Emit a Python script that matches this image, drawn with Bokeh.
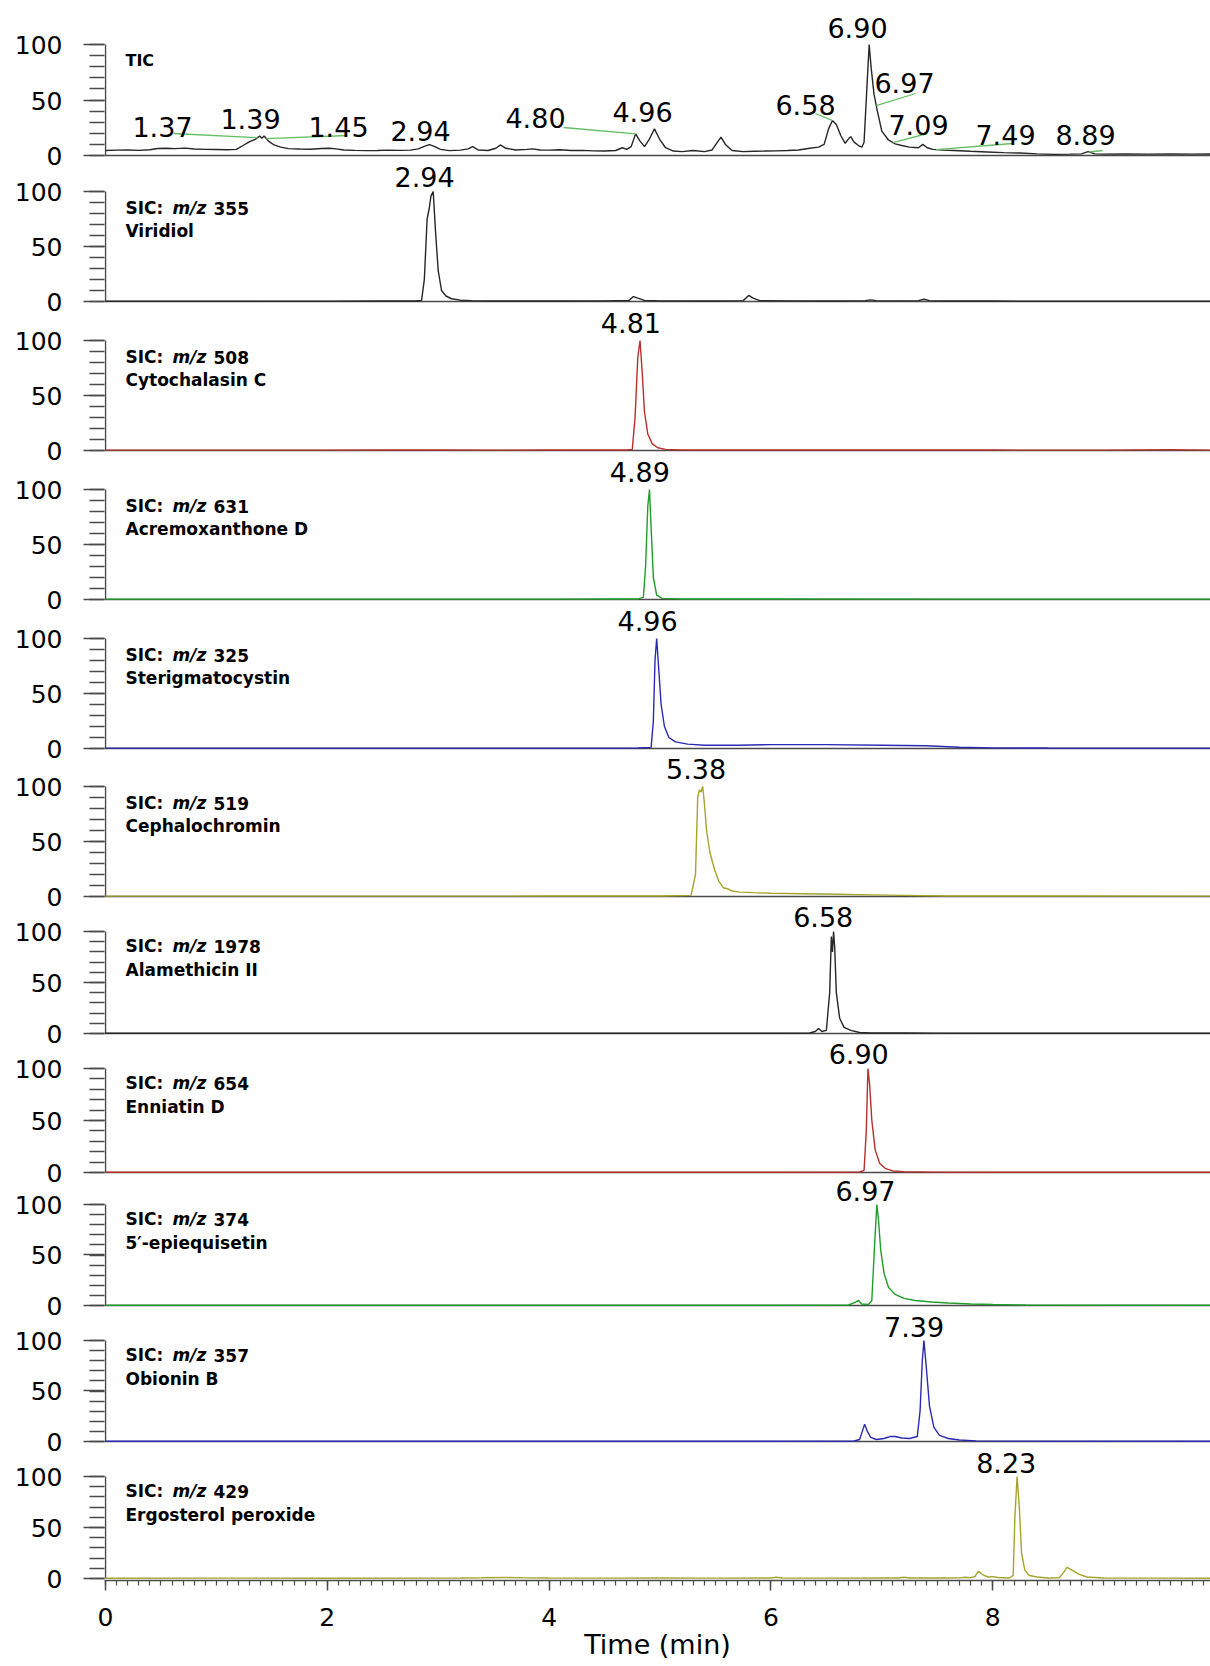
import numpy as np
from bokeh.plotting import figure
from bokeh.models import Range1d, FixedTicker, Span, Label, ColumnDataSource
from bokeh.embed import file_html
from bokeh.resources import INLINE
from bokeh.core.properties import value

# ------------------------------------------------------------------ data
tic_rt = [0.00, 0.10, 0.20, 0.30, 0.40, 0.47, 0.55, 0.62, 0.72, 0.80, 0.90, 1.00, 1.10, 1.18,
          1.24, 1.30, 1.35, 1.37, 1.39, 1.41, 1.43, 1.47, 1.52, 1.58, 1.65, 1.75, 1.85, 1.95,
          2.02, 2.08, 2.15, 2.25, 2.35, 2.45, 2.55, 2.65, 2.75, 2.82, 2.88, 2.92, 2.96, 3.02,
          3.10, 3.20, 3.27, 3.31, 3.36, 3.45, 3.52, 3.56, 3.61, 3.70, 3.80, 3.85, 3.92, 4.00,
          4.10, 4.20, 4.30, 4.40, 4.50, 4.60, 4.66, 4.70, 4.74, 4.78, 4.82, 4.86, 4.90, 4.95,
          5.00, 5.05, 5.12, 5.20, 5.30, 5.40, 5.47, 5.51, 5.55, 5.59, 5.65, 5.75, 5.85, 5.95,
          6.05, 6.15, 6.25, 6.35, 6.43, 6.48, 6.52, 6.555, 6.59, 6.63, 6.67, 6.70, 6.72, 6.75,
          6.79, 6.82, 6.84, 6.865, 6.886, 6.905, 6.93, 6.96, 7.00, 7.06, 7.12, 7.18, 7.25, 7.33,
          7.37, 7.41, 7.46, 7.55, 7.65, 7.80, 7.95, 8.10, 8.25, 8.40, 8.55, 8.70, 8.80, 8.86,
          8.92, 9.00, 9.20, 9.40, 9.60, 9.80, 9.99]
tic_int = [4.5, 4.8, 5.0, 4.6, 5.2, 6.3, 6.5, 6.2, 6.6, 5.8, 5.5, 5.4, 5.2, 5.5,
           9.0, 12.5, 14.5, 16.0, 17.5, 15.5, 17.5, 13.0, 9.5, 7.5, 6.2, 5.8, 5.6, 6.3,
           6.5, 6.0, 5.0, 4.6, 4.4, 4.5, 4.8, 4.6, 4.8, 6.0, 8.5, 9.8, 8.5, 5.5,
           4.4, 4.8, 6.0, 8.0, 5.0, 4.5, 6.5, 9.5, 6.5, 5.0, 5.5, 6.0, 5.0, 4.8,
           5.2, 4.5, 4.6, 4.2, 4.0, 4.5, 7.0, 5.5, 8.0, 19.5, 13.0, 8.0, 14.0, 24.0,
           14.0, 7.0, 4.0, 3.5, 4.5, 3.5, 5.0, 11.0, 16.5, 10.0, 4.5, 3.5, 3.8, 4.0,
           4.2, 4.5, 5.0, 6.5, 7.5, 10.0, 24.0, 31.5, 28.0, 18.0, 11.0, 15.0, 17.0, 12.0,
           9.0, 7.5, 12.0, 60.0, 100.0, 78.0, 55.0, 40.0, 22.0, 14.0, 10.5, 9.0, 7.5, 7.0,
           10.0, 7.0, 5.5, 4.8, 4.5, 3.8, 3.2, 2.6, 2.2, 1.5, 1.0, 1.2, 1.5, 3.5,
           1.5, 1.2, 1.5, 1.2, 1.4, 1.2, 1.3]

viridiol_rt = [0.0, 0.5, 1.0, 1.5, 2.0, 2.5, 2.80, 2.85, 2.875, 2.90, 2.92, 2.935, 2.955, 2.975,
               3.00, 3.03, 3.07, 3.12, 3.20, 3.30, 3.5, 4.0, 4.5, 4.72, 4.76, 4.80, 4.86, 5.0,
               5.5, 5.75, 5.80, 5.84, 5.90, 6.2, 6.6, 6.85, 6.90, 6.95, 7.2, 7.33, 7.38, 7.43,
               7.6, 8.0, 9.0, 9.99]
viridiol_int = [0.2, 0.3, 0.2, 0.3, 0.3, 0.4, 0.5, 1.0, 20, 75, 85, 96, 100, 65,
                28, 10, 5, 2.5, 1.2, 0.8, 0.5, 0.5, 0.6, 1.0, 4.5, 3.0, 1.0, 0.6,
                0.5, 0.8, 5.5, 3.0, 0.8, 0.6, 0.5, 0.8, 1.5, 0.8, 0.6, 0.8, 2.0, 0.8,
                0.5, 0.4, 0.3, 0.3]

cytochalasin_rt = [0.0, 1.0, 2.0, 2.5, 3.0, 3.5, 4.0, 4.5, 4.70, 4.75, 4.775, 4.80, 4.82, 4.84,
                   4.86, 4.89, 4.93, 4.98, 5.05, 5.2, 5.5, 6.0, 7.0, 8.0, 9.0, 9.6, 9.99]
cytochalasin_int = [0.3, 0.3, 0.3, 0.5, 0.4, 0.3, 0.5, 0.4, 0.5, 1, 30, 85, 100, 70,
                    35, 15, 6, 2.5, 1, 0.5, 0.4, 0.4, 0.5, 0.4, 0.3, 0.8, 0.3]

acremoxanthone_rt = [0.0, 2.0, 4.0, 4.5, 4.80, 4.85, 4.87, 4.89, 4.905, 4.92, 4.94, 4.97, 5.02,
                     5.2, 6.0, 8.0, 9.99]
acremoxanthone_int = [0.3, 0.3, 0.3, 0.4, 0.5, 2, 30, 85, 100, 65, 20, 4, 1,
                      0.5, 0.4, 0.3, 0.3]

sterigmatocystin_rt = [0.0, 2.0, 4.0, 4.8, 4.92, 4.94, 4.955, 4.97, 4.99, 5.01, 5.04, 5.08,
                       5.14, 5.25, 5.4, 5.7, 6.0, 6.5, 7.0, 7.4, 7.7, 8.0, 8.5, 9.99]
sterigmatocystin_int = [0.3, 0.3, 0.3, 0.4, 1, 25, 80, 100, 70, 40, 20, 10,
                        6, 4, 3, 3, 3.5, 3.5, 3.0, 2.5, 1.2, 0.6, 0.4, 0.3]

cephalochromin_rt = [0.0, 2.0, 4.0, 5.0, 5.28, 5.32, 5.34, 5.355, 5.37, 5.385, 5.40, 5.42,
                     5.45, 5.49, 5.53, 5.57, 5.61, 5.65, 5.72, 5.85, 6.0, 6.3, 6.6, 6.9, 7.2,
                     7.6, 8.0, 9.99]
cephalochromin_int = [0.3, 0.3, 0.4, 0.5, 1, 20, 90, 97, 95, 100, 85, 60,
                      40, 25, 14, 8, 7, 5, 4, 3.5, 3, 2.5, 2, 1.5, 1,
                      0.5, 0.4, 0.3]

alamethicin_rt = [0.0, 2.0, 4.0, 6.0, 6.35, 6.40, 6.43, 6.46, 6.50, 6.53, 6.545, 6.555, 6.565,
                  6.575, 6.59, 6.62, 6.66, 6.72, 6.80, 6.9, 7.2, 7.5, 8.0, 9.99]
alamethicin_int = [0.2, 0.2, 0.3, 0.3, 0.5, 2, 5, 2, 3, 40, 95, 80, 100,
                   85, 40, 15, 6, 3, 1, 0.5, 0.6, 0.4, 0.3, 0.2]

enniatin_rt = [0.0, 2.0, 4.0, 6.0, 6.80, 6.84, 6.86, 6.875, 6.89, 6.91, 6.94, 6.98, 7.03,
               7.10, 7.2, 7.5, 8.0, 9.99]
enniatin_int = [0.3, 0.3, 0.3, 0.3, 0.5, 2, 40, 100, 85, 50, 22, 9, 4,
                1.5, 0.7, 0.4, 0.3, 0.3]

epiequisetin_rt = [0.0, 2.0, 4.0, 6.0, 6.70, 6.76, 6.79, 6.82, 6.88, 6.91, 6.935, 6.955, 6.97,
                   6.99, 7.02, 7.06, 7.12, 7.2, 7.3, 7.45, 7.6, 7.8, 8.0, 8.3, 9.99]
epiequisetin_int = [0.3, 0.3, 0.3, 0.3, 0.5, 3, 5, 1.5, 1, 5, 60, 100, 85,
                    55, 32, 18, 11, 7, 5, 3.5, 2.5, 1.5, 1, 0.5, 0.3]

obionin_rt = [0.0, 2.0, 4.0, 6.0, 6.75, 6.80, 6.83, 6.845, 6.87, 6.90, 6.95, 7.02, 7.08, 7.12,
              7.18, 7.25, 7.32, 7.345, 7.365, 7.38, 7.40, 7.43, 7.47, 7.52, 7.6, 7.7, 7.85,
              8.2, 9.99]
obionin_int = [0.3, 0.3, 0.3, 0.3, 0.5, 2, 12, 17, 10, 4, 2, 3, 5, 5,
               3.5, 3, 5, 30, 80, 100, 75, 35, 14, 6, 3, 1.5, 0.6,
               0.4, 0.3]

ergosterol_rt = [0.0, 1.0, 2.0, 3.2, 3.4, 3.6, 3.8, 4.0, 4.5, 5.0, 5.5, 6.0, 6.05, 6.1, 6.5,
                 7.0, 7.15, 7.2, 7.25, 7.6, 7.7, 7.75, 7.8, 7.84, 7.87, 7.92, 7.96, 8.0, 8.05,
                 8.15, 8.185, 8.20, 8.22, 8.24, 8.26, 8.29, 8.33, 8.4, 8.5, 8.6, 8.64, 8.67,
                 8.72, 8.78, 8.85, 9.0, 9.5, 9.99]
ergosterol_int = [0.3, 0.4, 0.3, 0.5, 0.7, 1.0, 0.6, 0.5, 0.4, 0.5, 0.4, 0.5, 1.2, 0.5, 0.4,
                  0.5, 0.5, 1.2, 0.5, 0.5, 0.6, 1.2, 0.8, 2, 7, 3, 1.5, 1.8, 1,
                  0.5, 3, 60, 100, 70, 25, 8, 3, 1.5, 0.5, 0.8, 6, 11,
                  8, 4, 1.5, 0.5, 0.4, 0.3]

# TIC peak labels (retention times shown) and where the leader lines touch the trace
tic_labels = ["1.37", "1.39", "1.45", "2.94", "4.80", "4.96", "6.58", "6.90", "6.97", "7.09", "7.49", "8.89"]
tic_leader_rt = [1.37, None, 1.45, None, 4.78, None, 6.555, None, 6.95, 7.10, 7.49, 8.87]

sic_mz = ["355", "508", "631", "325", "519", "1978", "654", "374", "357", "429"]
sic_names = ["Viridiol", "Cytochalasin  C", "Acremoxanthone  D", "Sterigmatocystin",
             "Cephalochromin", "Alamethicin  II", "Enniatin  D", "5\u2032-epiequisetin",
             "Obionin  B", "Ergosterol peroxide"]
sic_peak_rt = [2.94, 4.81, 4.89, 4.96, 5.38, 6.58, 6.90, 6.97, 7.39, 8.23]
sic_peak_label = ["2.94", "4.81", "4.89", "4.96", "5.38", "6.58", "6.90", "6.97", "7.39", "8.23"]
sic_rt = [viridiol_rt, cytochalasin_rt, acremoxanthone_rt, sterigmatocystin_rt, cephalochromin_rt,
          alamethicin_rt, enniatin_rt, epiequisetin_rt, obionin_rt, ergosterol_rt]
sic_int = [viridiol_int, cytochalasin_int, acremoxanthone_int, sterigmatocystin_int, cephalochromin_int,
           alamethicin_int, enniatin_int, epiequisetin_int, obionin_int, ergosterol_int]

x_ticks = [0, 2, 4, 6, 8]
y_ticks = [0, 50, 100]
y_minor_step = 10

# ------------------------------------------------------------------ style / layout
FONT = "DejaVu Sans"
AXC = "#4a4a4a"
BLACK = "#262626"
RED = "#b8302c"
GREEN = "#1f9e2a"
BLUE = "#2a2ab4"
OLIVE = "#a6a42c"
sic_colors = [BLACK, RED, GREEN, BLUE, OLIVE, BLACK, RED, GREEN, BLUE, OLIVE]
LEADER = "#62c062"

# page geometry in pixels (page == canvas)
ZEROS = [155, 301, 450, 599, 748, 896, 1033, 1172, 1305, 1441, 1578]
HUNDREDS = [44, 191, 340, 489, 638, 786, 931, 1068, 1204, 1340, 1476]
W, H = 1210, 1666
FRAME_LEFT = 104
X0 = 105                     # page x of t = 0
PX_PER_MIN = 110.9
FRAME_BOTTOM = ZEROS[-1] + 2
LABEL_LEFT = 125
NAME_DY1 = [16.5] * 6 + [14.5] * 5
NAME_DY2 = [39] * 6 + [38.5] * 5
sic_label_dx = [-7, -8, -8, -8, -6, -12, -12, -13, -11, -12]
sic_label_dy = [-15, -18, -18, -18, -18, -15, -15, -14, -14, -14]
tic_label_px = [(162, 126), (250, 118), (338, 126), (420, 130), (535, 117.5), (642, 111),
                (805, 104), (857, 27), (904, 82.5), (918, 124), (1005, 134), (1085, 134)]
tic_leader_px = [(173, 133), None, (347, 135), None, (563, 127), None,
                 (815, 113), None, (915, 93), (927, 133), (1012, 143), (1102, 150)]


def dx(px):
    return (px - X0) / PX_PER_MIN


p = figure(width=W, height=H, title=None,
           x_range=Range1d(dx(FRAME_LEFT), dx(W)),
           y_range=Range1d(FRAME_BOTTOM, 0),
           output_backend="svg", toolbar_location=None,
           x_axis_location="below", y_axis_location="left",
           min_border_left=FRAME_LEFT, min_border_right=0, min_border_top=0,
           min_border_bottom=H - FRAME_BOTTOM)
p.outline_line_color = None
p.grid.visible = False
p.background_fill_color = "white"
p.border_fill_color = "white"

# one intensity scale (0-100 %) per panel, all sharing the same frame
n = 1 + len(sic_names)
major, minor, overrides = [], [], {}
for i in range(n):
    u = (ZEROS[i] - HUNDREDS[i]) / 100.0
    s = (ZEROS[i] - FRAME_BOTTOM) / u
    p.extra_y_ranges[f"p{i}"] = Range1d(s, s + FRAME_BOTTOM / u)
    for t in y_ticks:
        pos = int(round(ZEROS[i] - t * u))
        major.append(pos)
        overrides[pos] = str(t)
    for t in range(y_ticks[0], y_ticks[-1] + 1, y_minor_step):
        minor.append(ZEROS[i] - t * u)

ya = p.yaxis[0]
ya.ticker = FixedTicker(ticks=sorted(major), minor_ticks=sorted(minor))
ya.major_label_overrides = overrides
ya.axis_line_color = None
ya.major_tick_out = 21
ya.major_tick_in = 0
ya.minor_tick_out = 15
ya.minor_tick_in = 0
ya.major_tick_line_color = AXC
ya.major_tick_line_width = 1.5
ya.minor_tick_line_color = AXC
ya.minor_tick_line_width = 1.3
ya.major_label_text_font = FONT
ya.major_label_text_font_size = "25px"
ya.major_label_text_color = "black"
ya.major_label_standoff = 21

xa = p.xaxis[0]
xa.ticker = FixedTicker(ticks=x_ticks, minor_ticks=[round(0.1 * j, 1) for j in range(0, 100)])
xa.major_tick_out = 10
xa.major_tick_in = 0
xa.minor_tick_out = 5
xa.minor_tick_in = 0
xa.axis_line_color = AXC
xa.axis_line_width = 1.5
xa.major_tick_line_color = AXC
xa.major_tick_line_width = 1.5
xa.minor_tick_line_color = AXC
xa.minor_tick_line_width = 1.2
xa.major_label_text_font = FONT
xa.major_label_text_font_size = "25px"
xa.major_label_text_color = "black"
xa.major_label_standoff = 17
xa.axis_label = "Time (min)"
xa.axis_label_text_font = FONT
xa.axis_label_text_font_size = "27px"
xa.axis_label_text_font_style = "normal"
xa.axis_label_text_color = "black"
xa.axis_label_standoff = 0

for i in range(n):
    rn = f"p{i}"
    # vertical axis line of the panel (0 - 100 %)
    p.segment(x0=[0], y0=[y_ticks[0]], x1=[0], y1=[y_ticks[-1]], y_range_name=rn,
              line_color=AXC, line_width=1.5)
    if i < n - 1:
        p.add_layout(Span(location=0, dimension="width", y_range_name=rn,
                          line_color=AXC, line_width=1.5, level="underlay"))
    if i == 0:
        rt, yy, col = tic_rt, tic_int, BLACK
    else:
        rt, yy, col = sic_rt[i - 1], sic_int[i - 1], sic_colors[i - 1]
    p.line(x="rt", y="y", source=ColumnDataSource(dict(rt=rt, y=yy)), y_range_name=rn,
           line_color=col, line_width=1.4)

# TIC annotations
u0 = (ZEROS[0] - HUNDREDS[0]) / 100.0
sx0, sy0, sx1, sy1 = [], [], [], []
for k, r in enumerate(tic_leader_rt):
    if r is None:
        continue
    sx0.append(r)
    sy0.append(float(np.interp(r, tic_rt, tic_int)))
    sx1.append(dx(tic_leader_px[k][0]))
    sy1.append((ZEROS[0] - tic_leader_px[k][1]) / u0)
p.segment(x0=sx0, y0=sy0, x1=sx1, y1=sy1, y_range_name="p0", line_color=LEADER, line_width=1.3)
p.text(x=[dx(a) for a, b in tic_label_px], y=[b for a, b in tic_label_px], text=tic_labels,
       text_font=value(FONT), text_font_size="27px", text_align="center",
       text_baseline="middle", text_color="black")
p.add_layout(Label(x=dx(LABEL_LEFT), y=HUNDREDS[0] + 16, text="TIC", text_font=FONT,
                   text_font_size="16px", text_font_style="bold", text_baseline="middle",
                   text_color="black"))

# SIC annotations
for k in range(len(sic_names)):
    i = k + 1
    p.text(x=[sic_peak_rt[k]], y=[HUNDREDS[i] + sic_label_dy[k]], text=[sic_peak_label[k]],
           text_font=value(FONT), text_font_size="27px", text_align="center",
           text_baseline="middle", x_offset=sic_label_dx[k], text_color="black")
    c1 = HUNDREDS[i] + NAME_DY1[i]
    c2 = HUNDREDS[i] + NAME_DY2[i]
    parts = [("SIC:", "bold", LABEL_LEFT), ("m/z", "bold italic", LABEL_LEFT + 47),
             (sic_mz[k], "bold", LABEL_LEFT + 88)]
    for txt, sty, px in parts:
        p.add_layout(Label(x=dx(px), y=c1, text=txt, text_font=FONT, text_font_size="17px",
                           text_font_style=sty, text_baseline="middle", text_color="black"))
    p.add_layout(Label(x=dx(LABEL_LEFT), y=c2, text=sic_names[k], text_font=FONT,
                       text_font_size="17px", text_font_style="bold",
                       text_baseline="middle", text_color="black"))

open("out.html", "w").write(file_html(p, INLINE))
